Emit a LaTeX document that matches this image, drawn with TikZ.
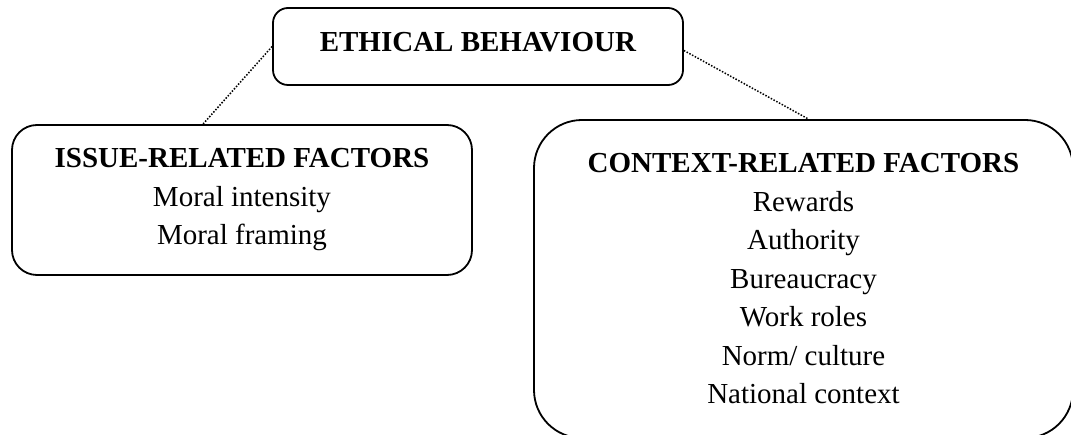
\documentclass[tikz,border=0pt]{standalone}
\usepackage{fontspec}
\setmainfont{Liberation Serif}
\tikzset{
  factorbox/.style={draw, line width=1.8pt, align=center, inner sep=0pt,
    font=\fontsize{29}{38.5}\selectfont},
  link/.style={line width=1.5pt, dash pattern=on 1.5pt off 1.6pt}
}
\begin{document}
\begin{tikzpicture}[x=1pt,y=-1pt]
      \useasboundingbox (0,0) rectangle (1071,435);
      \node[factorbox, rounded corners=15pt, minimum width=410pt, minimum height=77pt,
        text height=20pt, text depth=9pt] (ethics) at (478,46.5) {\textbf{ETHICAL BEHAVIOUR}};
      \node[factorbox, rounded corners=25pt, minimum width=460pt, minimum height=150pt]
        (issue) at (242,200) {\textbf{ISSUE-RELATED FACTORS}\\Moral intensity\\Moral framing};
      \node[factorbox, rounded corners=48pt, minimum width=539pt, minimum height=318pt]
        (context) at (803.5,279) {\textbf{CONTEXT-RELATED FACTORS}\\Rewards\\Authority\\Bureaucracy\\Work roles\\Norm/ culture\\National context};
      \begin{scope}[link]
        \draw (ethics.west) to ([xshift=-39pt]issue.north);
        \draw ([yshift=-4pt]ethics.east) to ([xshift=5pt]context.north);
      \end{scope}
    \end{tikzpicture}
\end{document}
